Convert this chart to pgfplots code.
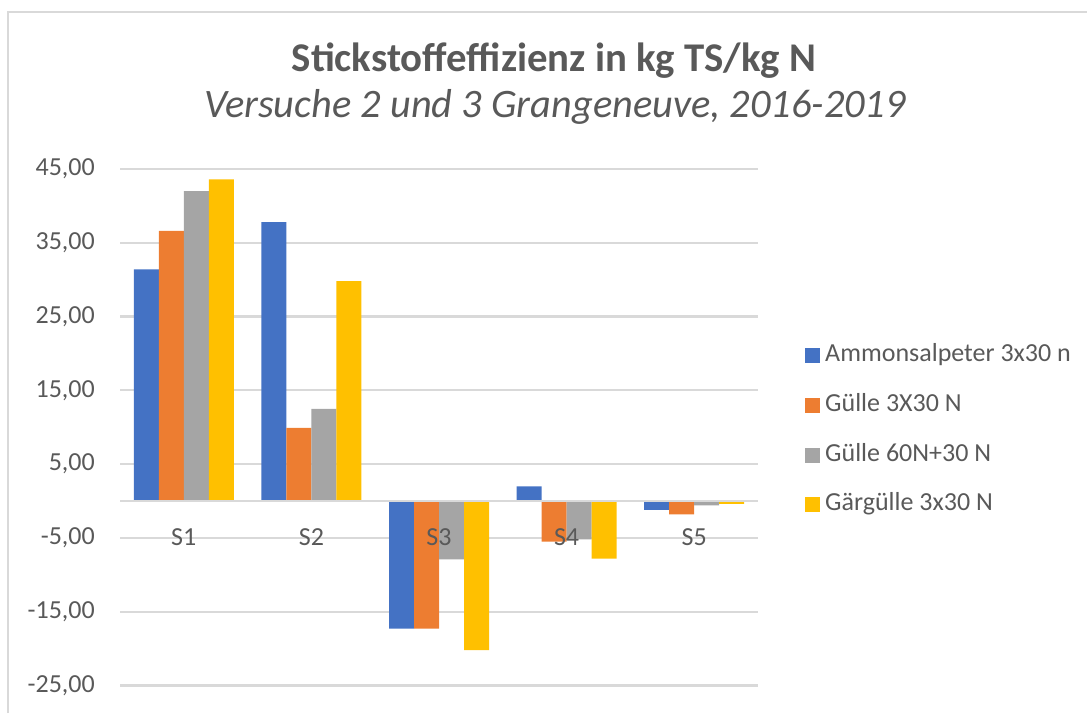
\documentclass[border=0pt]{standalone}
\usepackage{fontspec}
\setmainfont{Carlito}
\usepackage{pgfplots}
\pgfplotsset{compat=1.18}
\definecolor{cBlue}{HTML}{4472C4}
\definecolor{cOrange}{HTML}{ED7D31}
\definecolor{cGray}{HTML}{A5A5A5}
\definecolor{cYellow}{HTML}{FFC000}
\definecolor{txt}{HTML}{595959}
\definecolor{grd}{HTML}{D9D9D9}
\begin{document}
\begin{tikzpicture}
\draw[grd, line width=2.5pt] (8pt,0pt) -- (8pt,701pt) -- (1087pt,701pt);
\node[anchor=base, text=txt, font=\fontsize{40.8}{46}\selectfont\bfseries, inner sep=0pt] at (554pt,641pt) {Stickstoffeffizienz in kg TS/kg N};
\node[anchor=base, text=txt, font=\fontsize{40.4}{46}\selectfont\itshape, inner sep=0pt] at (555pt,595pt) {Versuche 2 und 3 Grangeneuve, 2016-2019};
\begin{axis}[
  set layers,
  every axis plot/.append style={on layer=axis ticks},
  at={(120pt,27.5pt)}, anchor=south west,
  scale only axis, width=638pt, height=516.5pt,
  xmin=-0.5, xmax=4.5, ymin=-25, ymax=45,
  ybar=0pt, bar width=25pt,
  axis x line*=middle, axis y line*=left,
  x axis line style={draw=grd, line width=2.2pt},
  y axis line style={draw=none},
  major tick length=0pt,
  xtick={0,1,2,3,4}, xticklabels={S1,S2,S3,S4,S5},
  ytick={-25,-15,-5,5,15,25,35,45},
  ymajorgrids, grid style={draw=grd, line width=2.2pt},
  tick label style={font=\fontsize{26}{30}\selectfont, text=txt},
  xticklabel style={anchor=center, inner sep=0pt, yshift=-36pt},
  yticklabel style={anchor=east, inner sep=0pt, xshift=-25pt},
  /pgf/number format/.cd, fixed, fixed zerofill, precision=2, use comma, assume math mode=true,
  /pgfplots/.cd,
  legend style={at={(1.0737,0.494)}, anchor=west, draw=none, fill=none,
    font=\fontsize{26}{30}\selectfont, text=txt, row sep=25.6pt, inner sep=0pt,
    nodes={inner sep=0pt, text height=18pt, text depth=6pt, anchor=west},
    /tikz/every odd column/.append style={column sep=5pt}},
  legend cell align=left,
  legend image code/.code={\fill[#1, draw=none] (0pt,-7.5pt) rectangle (15pt,7.5pt);},
]
\addplot[fill=cBlue, draw=none] coordinates {(0,31.4) (1,37.8) (2,-17.3) (3,2.0) (4,-1.2)};
\addplot[fill=cOrange, draw=none] coordinates {(0,36.6) (1,9.9) (2,-17.3) (3,-5.5) (4,-1.8)};
\addplot[fill=cGray, draw=none] coordinates {(0,42.0) (1,12.5) (2,-7.9) (3,-5.2) (4,-0.6)};
\addplot[fill=cYellow, draw=none] coordinates {(0,43.6) (1,29.8) (2,-20.2) (3,-7.8) (4,-0.4)};
\legend{Ammonsalpeter 3x30 n, Gülle 3X30 N, Gülle 60N+30 N, Gärgülle 3x30 N}
\end{axis}
\pgfresetboundingbox
\path[use as bounding box] (0,0) rectangle (1087pt,713pt);
\end{tikzpicture}
\end{document}
